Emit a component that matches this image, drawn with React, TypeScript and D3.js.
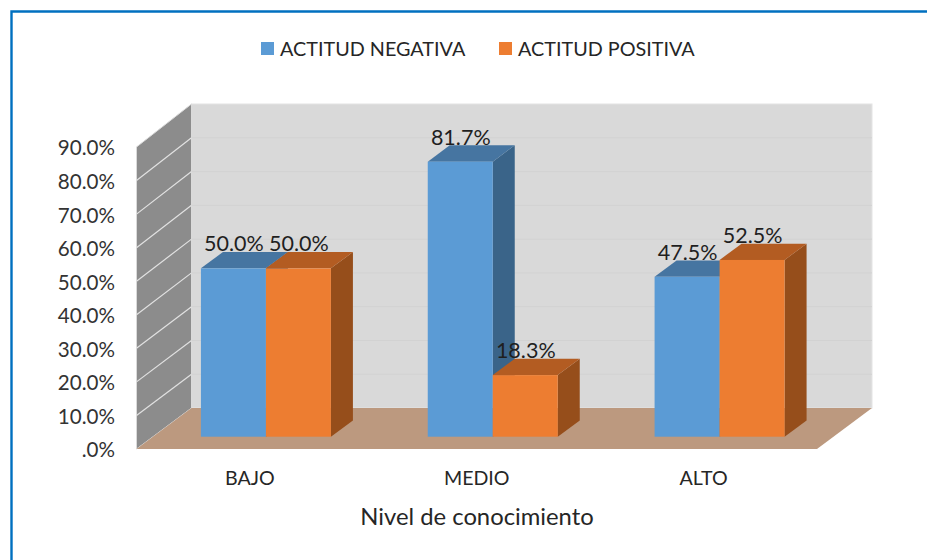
import React from "react";
import * as d3 from "d3";

const categories = ["BAJO", "MEDIO", "ALTO"];
const seriesNames = ["ACTITUD NEGATIVA", "ACTITUD POSITIVA"];
const negativa = [50.0, 81.7, 47.5];
const positiva = [50.0, 18.3, 52.5];
const ticks = [0, 10, 20, 30, 40, 50, 60, 70, 80, 90];
const axisTitle = "Nivel de conocimiento";

const FONT = "Lato, 'Noto Sans', sans-serif";
const W = 927, H = 560;
const frontBase = 449, backBase = 408;
const barBase = 436.7;
const left = 136.5, right = 817, dxWall = 55;
const barDx = 22, barDy = 16.3;
const colors = [
  { front: "#5B9BD5", top: "#4675A1", side: "#3A6489" },
  { front: "#ED7D31", top: "#B35C22", side: "#964E1B" },
];

const yFront = d3.scaleLinear().domain([0, 90]).range([frontBase, 147]);
const yBack = d3.scaleLinear().domain([0, 90]).range([backBase, 104]);
const yBar = d3.scaleLinear().domain([0, 90]).range([barBase, barBase - 303]);
const xGroup = d3.scaleBand<string>().domain(categories).range([left, right]);
const xSeries = d3.scaleBand<number>().domain([0, 1]).range([0, 130]);
const barShift = 16 + (xGroup.bandwidth() / 2 - 65);

const poly = (pts: [number, number][]) => (d3.line()(pts) ?? "") + "Z";

export default function App() {
  const values = [negativa, positiva];
  const bars = seriesNames.flatMap((_, s) =>
    categories.map((c, i) => {
      const x0 = (xGroup(c) as number) + barShift + (xSeries(s) as number);
      const x1 = x0 + xSeries.bandwidth();
      return { s, i, x0, x1, yT: yBar(values[s][i]), v: values[s][i] };
    })
  );
  const ordered = [...bars].sort((a, b) => a.x0 - b.x0);
  return (
    <svg width={W} height={H} style={{ position: "absolute", left: 0, top: 0, background: "#fff" }}>
      <path d={`M${W},11.5H11.5V${H}`} fill="none" stroke="#0070C0" strokeWidth={2.4} />

      {/* legend */}
      {seriesNames.map((n, s) => {
        const sx = [261, 499][s];
        return (
          <g key={n}>
            <rect x={sx} y={42} width={13} height={13} fill={colors[s].front} />
            <text x={sx + 19} y={55.5} fontFamily={FONT} fontSize={19.8} fill="#262626">{n}</text>
          </g>
        );
      })}

      {/* walls */}
      <rect x={left + dxWall} y={yBack(90)} width={right - left} height={backBase - yBack(90)} fill="#D9D9D9" stroke="#E4E4E4" strokeWidth={1} />
      <path
        d={poly([[left, yFront(0)], [left + dxWall, yBack(0)], [left + dxWall, yBack(90)], [left, yFront(90)]])}
        fill="#8C8C8C" stroke="#DADADA" strokeWidth={1}
      />
      <path
        d={poly([[left, frontBase], [left + dxWall, backBase], [right + dxWall, backBase], [right, frontBase]])}
        fill="#BC997F"
      />
      {ticks.slice(1, -1).map((t) => (
        <g key={t}>
          <line x1={left} x2={left + dxWall} y1={yFront(t)} y2={yBack(t)} stroke="#E2E2E2" strokeWidth={1.2} />
          <line x1={left + dxWall} x2={right + dxWall} y1={yBack(t)} y2={yBack(t)} stroke="#D2D2D2" strokeWidth={1} />
        </g>
      ))}

      {/* bars */}
      {ordered.map((b) => (
        <g key={`${b.s}-${b.i}`}>
          <path d={poly([[b.x1, b.yT], [b.x1 + barDx, b.yT - barDy], [b.x1 + barDx, barBase - barDy], [b.x1, barBase]])} fill={colors[b.s].side} />
          <path d={poly([[b.x0, b.yT], [b.x0 + barDx, b.yT - barDy], [b.x1 + barDx, b.yT - barDy], [b.x1, b.yT]])} fill={colors[b.s].top} />
          <rect x={b.x0} y={b.yT} width={b.x1 - b.x0} height={barBase - b.yT} fill={colors[b.s].front} />
        </g>
      ))}

      {/* data labels */}
      {ordered.map((b) => (
        <text key={`l-${b.s}-${b.i}`} x={(b.x0 + b.x1) / 2 + 0.5} y={b.yT - 17} textAnchor="middle" fontFamily={FONT} fontSize={21.5} fill="#1f1f1f">
          {b.v.toFixed(1)}%
        </text>
      ))}

      {/* y axis */}
      {ticks.map((t) => (
        <text key={t} x={115} y={yFront(t) + 1} dy="0.36em" textAnchor="end" fontFamily={FONT} fontSize={20.6} fill="#333">
          {t === 0 ? ".0%" : `${t.toFixed(1)}%`}
        </text>
      ))}

      {/* x axis */}
      {categories.map((c) => (
        <text key={c} x={(xGroup(c) as number) + xGroup.bandwidth() / 2} y={485} textAnchor="middle" fontFamily={FONT} fontSize={19.6} fill="#262626">
          {c}
        </text>
      ))}
      <text x={477} y={525} textAnchor="middle" fontFamily={FONT} fontSize={23.8} fill="#262626">{axisTitle}</text>
    </svg>
  );
}
